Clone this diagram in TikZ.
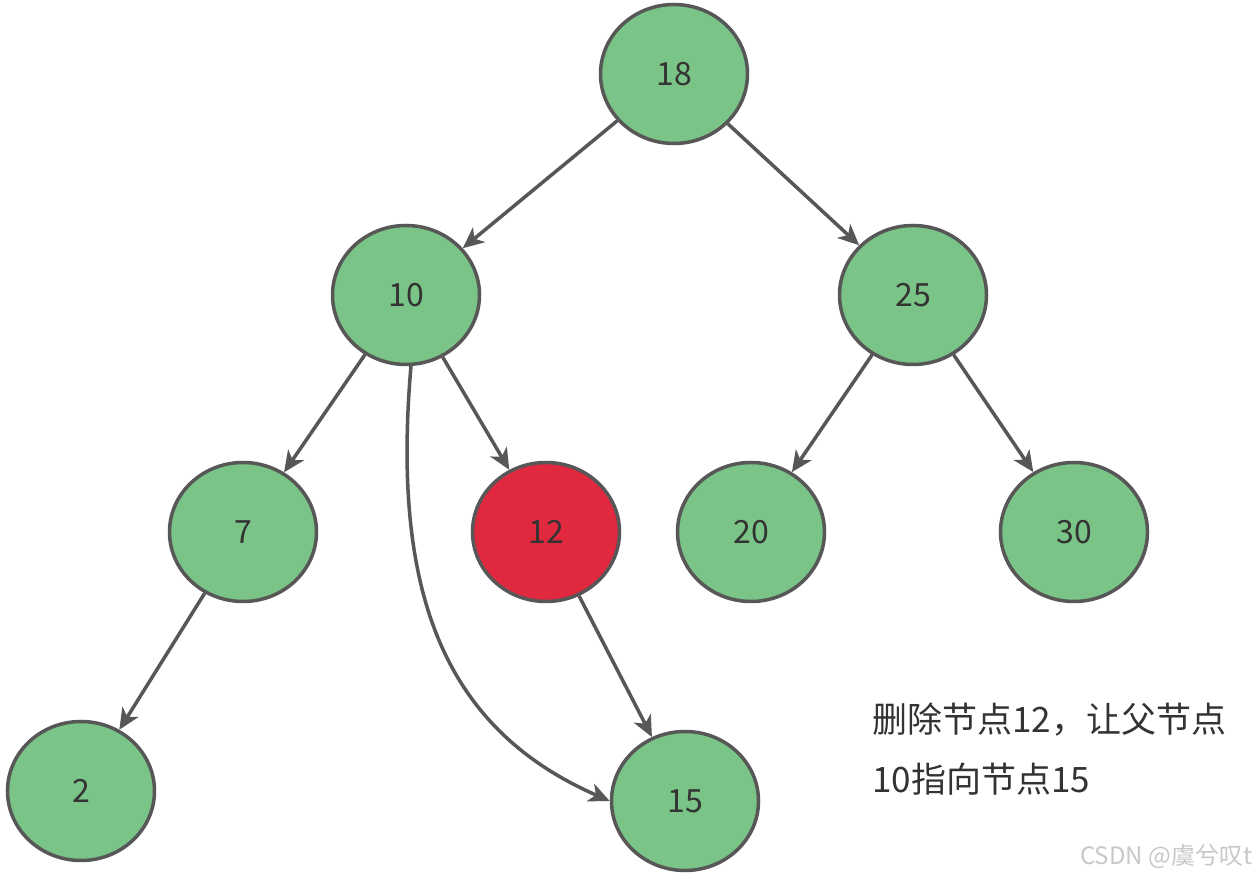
\documentclass[tikz,border=0pt]{standalone}
\usepackage{fontspec}
\setmainfont{Noto Sans CJK SC}
\usetikzlibrary{shapes.geometric,arrows.meta}
\definecolor{nodegreen}{HTML}{79C486}
\definecolor{nodered}{HTML}{E0283F}
\definecolor{edgegray}{HTML}{575757}
\definecolor{txtdark}{HTML}{333333}
\definecolor{wmgray}{HTML}{C8C8C8}
\tikzset{
  treenode/.style={ellipse, draw=edgegray, line width=3.5pt, fill=nodegreen,
    minimum width=147pt, minimum height=139pt, inner sep=0pt,
    text=txtdark, font=\fontsize{32}{38}\selectfont},
  rednode/.style={treenode, fill=nodered},
  link/.style={draw=edgegray, line width=3.5pt,
    -{Stealth[length=21pt,width=19pt,inset=6pt]}},
  note/.style={anchor=base west, inner sep=0pt, text=txtdark,
    font=\fontsize{35}{42}\selectfont}
}
\begin{document}
\begin{tikzpicture}[x=1pt,y=1pt]
\useasboundingbox[fill=white] (0,0) rectangle (1255,877);
\node[treenode] (n18) at (674,803) {18};
\node[treenode] (n10) at (406,582) {10};
\node[treenode] (n25) at (913,582) {25};
\node[treenode] (n7)  at (243,345) {7};
\node[rednode]  (n12) at (546,345) {12};
\node[treenode] (n20) at (751,345) {20};
\node[treenode] (n30) at (1074,345) {30};
\node[treenode] (n2)  at (81,86) {2};
\node[treenode] (n15) at (685,76) {15};

\draw[link] (n18) -- (n10);
\draw[link] (n18) -- (n25);
\draw[link] (n10) -- (n7);
\draw[link] (n10) -- (n12);
\draw[link] (n25) -- (n20);
\draw[link] (n25) -- (n30);
\draw[link] (n7) -- (n2);
\draw[link] (n12) -- (n15);
\draw[link] (n10.-86) .. controls (392,290) and (440,150) .. (n15.west);

\node[note] (t1) at (872,144) {删除节点12，让父节点};
\node[note] (t2) at (872,84) {10指向节点15};
\node[anchor=base west, inner sep=0pt, text=wmgray, font=\fontsize{24}{28}\selectfont] (wm) at (1080,12) {CSDN @虞兮叹t};
\end{tikzpicture}
\end{document}
